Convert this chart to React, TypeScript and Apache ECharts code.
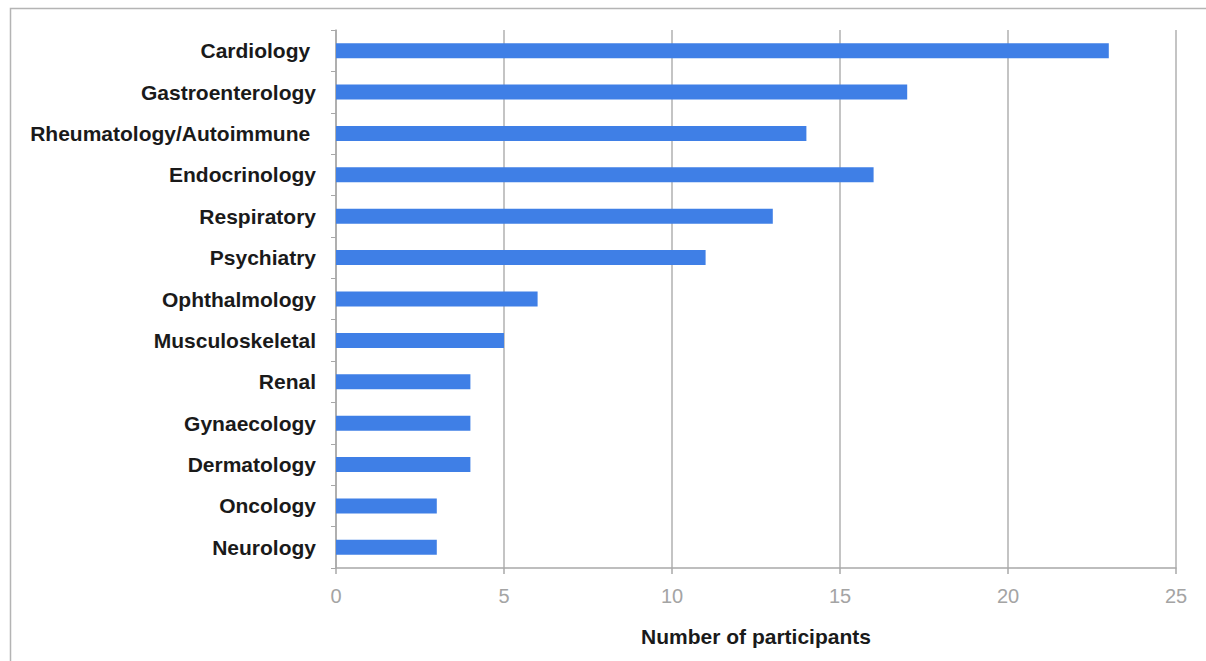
import React, { useEffect, useRef } from "react";
import * as echarts from "echarts";

const categories = [
  "Cardiology ",
  "Gastroenterology",
  "Rheumatology/Autoimmune ",
  "Endocrinology",
  "Respiratory",
  "Psychiatry",
  "Ophthalmology",
  "Musculoskeletal",
  "Renal",
  "Gynaecology",
  "Dermatology",
  "Oncology",
  "Neurology",
];
const participants = [23, 17, 14, 16, 13, 11, 6, 5, 4, 4, 4, 3, 3];
const xTicks = { min: 0, max: 25, interval: 5 };
const xAxisName = "Number of participants";

export default function App() {
  const ref = useRef<HTMLDivElement>(null);
  useEffect(() => {
    if (!ref.current) return;
    const chart = echarts.init(ref.current, undefined, { renderer: "svg" });
    chart.setOption({
      animation: false,
      backgroundColor: "#ffffff",
      textStyle: { fontFamily: "Liberation Sans, Arial, sans-serif" },
      graphic: [
        {
          type: "rect",
          silent: true,
          shape: { x: 10.5, y: 8.5, width: 1400, height: 1000 },
          style: { fill: "none", stroke: "#b4b4b4", lineWidth: 1.5 },
        },
      ],
      grid: { left: 336, right: 30, top: 30, bottom: 93, containLabel: false },
      xAxis: {
        type: "value",
        min: xTicks.min,
        max: xTicks.max,
        interval: xTicks.interval,
        name: xAxisName,
        nameLocation: "middle",
        nameGap: 58,
        nameTextStyle: {
          color: "#1a1a1a",
          fontSize: 21,
          fontWeight: "bold",
          fontFamily: "Liberation Sans, Arial, sans-serif",
          verticalAlign: "top",
        },
        axisLine: { show: true, lineStyle: { color: "#a8a8a8", width: 1.5 } },
        axisTick: { show: true, length: 6, lineStyle: { color: "#a8a8a8", width: 1.5 } },
        axisLabel: {
          color: "#a4a4a4",
          fontSize: 20,
          margin: 18,
          fontFamily: "Liberation Sans, Arial, sans-serif",
        },
        splitLine: { show: true, lineStyle: { color: "#b0b0b0", width: 1.5 } },
      },
      yAxis: {
        type: "category",
        data: categories,
        inverse: true,
        axisLine: { show: true, lineStyle: { color: "#a8a8a8", width: 1.5 } },
        axisTick: { show: true, length: 5, alignWithLabel: false, lineStyle: { color: "#a8a8a8", width: 1 } },
        axisLabel: {
          color: "#1a1a1a",
          fontSize: 21,
          fontWeight: "bold",
          margin: 20,
          fontFamily: "Liberation Sans, Arial, sans-serif",
        },
        splitLine: { show: false },
      },
      series: [
        {
          type: "bar",
          data: participants,
          barWidth: 15,
          itemStyle: { color: "#3f7fe6" },
        },
      ],
    });
    return () => chart.dispose();
  }, []);
  return (
    <div
      ref={ref}
      style={{ position: "fixed", left: 0, top: 0, width: 1206, height: 661 }}
    />
  );
}
